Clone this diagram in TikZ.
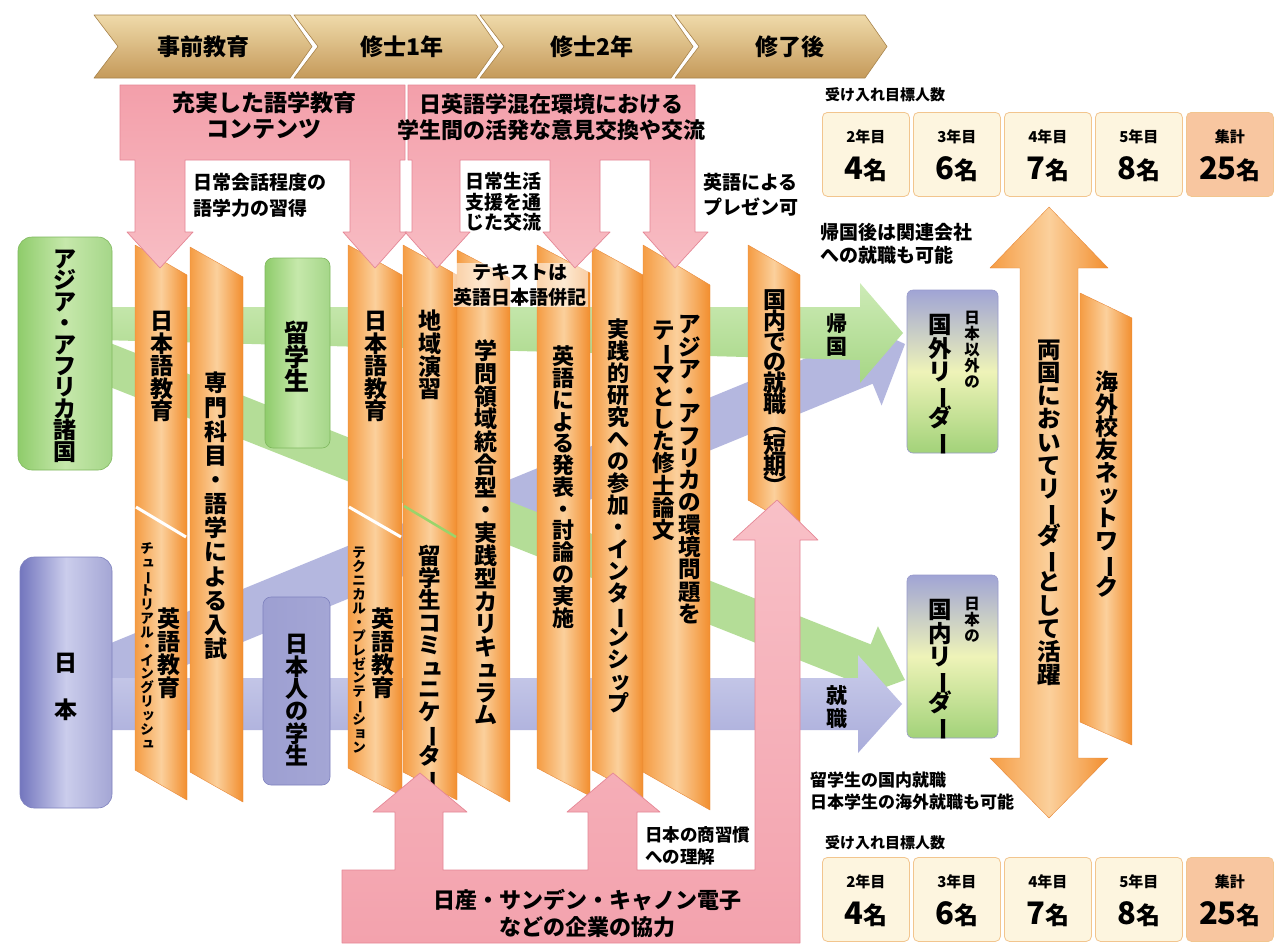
\documentclass[tikz,border=0pt]{standalone}
\usepackage{fontspec}
\setmainfont{Noto Sans CJK JP}
\usepackage{graphicx}
\usetikzlibrary{calc}

\definecolor{chevT}{HTML}{EFDAAA}
\definecolor{chevB}{HTML}{C59A5A}
\definecolor{chevD}{HTML}{A8844C}
\definecolor{orL}{HTML}{F59C43}
\definecolor{orM}{HTML}{FBD09C}
\definecolor{orR}{HTML}{F28E2E}
\definecolor{orD}{HTML}{E8893A}
\definecolor{pk1}{HTML}{F39FAA}
\definecolor{pk2}{HTML}{F8BDC4}
\definecolor{pkD}{HTML}{E58796}
\definecolor{pkB1}{HTML}{F8C0C7}
\definecolor{pkB2}{HTML}{F3A2AD}
\definecolor{grBand}{HTML}{B4DD97}
\definecolor{grB1}{HTML}{CDEBB6}
\definecolor{grB2}{HTML}{A6D685}
\definecolor{puBand}{HTML}{B4B7DF}
\definecolor{puB1}{HTML}{CBCDEB}
\definecolor{puB2}{HTML}{A9ACDA}
\definecolor{grL}{HTML}{8FCC6B}
\definecolor{grM}{HTML}{C6E8AB}
\definecolor{grD}{HTML}{7FB85E}
\definecolor{puL}{HTML}{7376BE}
\definecolor{puM}{HTML}{CBCDEC}
\definecolor{puD}{HTML}{7E81BE}
\definecolor{ldTop}{HTML}{A0A4D5}
\definecolor{ldMid}{HTML}{EEF3B8}
\definecolor{ldBot}{HTML}{A2D279}
\definecolor{cntF}{HTML}{FDF5DF}
\definecolor{cntD}{HTML}{F2C58E}
\definecolor{sumF}{HTML}{F8C6A0}
\definecolor{splitG}{HTML}{9AD46A}

\makeatletter
\newdimen\vt@s
\newcommand\vtext[2][1]{\vt@s=#1em\relax\vbox{\offinterlineskip\vt@A#2\relax}}
\def\vt@A#1{\ifx\relax#1\else\vt@char{#1}\expandafter\vt@A\fi}
\def\vt@char#1{\hbox to 1.15em{\hss\vrule height \dimexpr 0.5\vt@s+0.38em\relax depth \dimexpr 0.5\vt@s-0.38em\relax width 0pt\smash{\vt@g{#1}}\hss}}
\def\vt@g#1{\in@{#1}{ー（）}\ifin@\rotatebox[origin=c]{-90}{#1}\else\in@{#1}{ッュョャィァェォっゃゅょ}\ifin@\raisebox{0.06em}{\kern0.1em#1\kern-0.1em}\else#1\fi\fi}
\makeatother

\newcommand\fatarrow[5]{%
  \coordinate (#1b) at ($(#1t)!#4!(#1s)$);
  \path[#5] ($(#1s)!#2!90:(#1t)$) -- ($(#1b)!#2!90:(#1t)$) -- ($(#1b)!#3!90:(#1t)$) -- (#1t)
     -- ($(#1b)!#3!-90:(#1t)$) -- ($(#1b)!#2!-90:(#1t)$) -- ($(#1s)!#2!-90:(#1t)$) -- cycle;}

\newcommand\cntbox[6]{%
  \node[#6, anchor=north west, minimum width=87pt, minimum height=84pt, inner sep=0pt] (#1) at (#2,#3) {};
  \node[htf=15] (#1l) at ($(#1.north)+(0,25)$) {#4};
  \node[inner sep=0pt] (#1n) at ($(#1.north)+(0,57)$) {\bfseries\fontsize{31pt}{31pt}\selectfont #5\fontsize{24pt}{24pt}\selectfont 名};}

\tikzset{
  chev/.style={top color=chevT, bottom color=chevB, draw=chevD, line width=0.6pt},
  colbox/.style={left color=orL, right color=orR, middle color=orM, draw=orD, line width=0.4pt},
  pinktop/.style={top color=pk1, bottom color=pk2, draw=pkD, line width=0.7pt},
  pinkbot/.style={top color=pkB1, bottom color=pkB2, draw=pkD, line width=0.7pt},
  gband/.style={top color=grB1, bottom color=grB2},
  pband/.style={top color=puB1, bottom color=puB2},
  gdiag/.style={fill=grBand},
  pdiag/.style={fill=puBand},
  gbox/.style={left color=grL, right color=grL!80!white, middle color=grM, draw=grD, line width=0.6pt},
  pbox/.style={left color=puL, right color=puL!65!white, middle color=puM, draw=puD, line width=0.6pt},
  leader/.style={top color=ldTop, bottom color=ldBot, middle color=ldMid, draw=puD!80, line width=0.6pt, rounded corners=6pt},
  cnt/.style={draw=cntD, fill=cntF, rounded corners=5pt, line width=0.8pt},
  sumbox/.style={draw=cntD, fill=sumF, rounded corners=5pt, line width=0.8pt},
  vtf/.style={inner sep=0pt, font=\bfseries\fontsize{#1pt}{#1pt}\selectfont},
  htf/.style={inner sep=0pt, font=\bfseries\fontsize{#1pt}{#1pt}\selectfont},
}

\begin{document}
\begin{tikzpicture}[x=1pt,y=-1pt,line join=round]
\useasboundingbox (0,0) rectangle (1276,943);
\fill[white] (0,0) rectangle (1276,943);

% ---- timeline chevrons
\foreach \L/\R in {94/290,294/476,480/671,675/865}{
  \path[chev] (\L,15) -- (\R,15) -- (\R+22,46.5) -- (\R,78) -- (\L,78) -- (\L+24,46.5) -- cycle;}
\node[htf=23] (ph1) at (203,47) {事前教育};
\node[htf=23] (ph2) at (402,47) {修士1年};
\node[htf=23] (ph3) at (592,47) {修士2年};
\node[htf=23] (ph4) at (790,47) {修了後};

% ---- flow bands
\coordinate (pds) at (100,674); \coordinate (pdt) at (905,344);
\fatarrow{pd}{24.5pt}{48pt}{45pt}{pdiag}
\coordinate (gds) at (100,361); \coordinate (gdt) at (905,680);
\fatarrow{gd}{20.5pt}{40pt}{45pt}{gdiag}
\coordinate (ght) at (903,333);
\path[gband] (100,307) -- (860,307) -- (860,283) -- (ght) -- (860,383) -- (860,360) -- (100,340) -- cycle;
\coordinate (pht) at (902,704);
\path[pband] (100,678) -- (858,678) -- (858,655) -- (pht) -- (858,753) -- (858,730) -- (100,730) -- cycle;
\node[vtf=21] (kikoku) at (837,335) {\vtext[1.05]{帰国}};
\node[vtf=21] (shushoku) at (837,707) {\vtext[1.05]{就職}};

% ---- origin boxes
\path[gbox, rounded corners=14pt] (18,237) rectangle (112,470);
\node[vtf=23] (asia) at (65,355) {\vtext[0.93]{アジア・アフリカ諸国}};
\path[pbox, rounded corners=14pt] (20,557) rectangle (112,808);
\node[vtf=23] (japan) at (66,686) {\vtext[2.05]{日本}};
\path[gbox, rounded corners=8pt] (265,258) rectangle (330,448);
\node[vtf=25] (ryu) at (297,357) {\vtext[0.97]{留学生}};
\path[pbox, rounded corners=8pt, left color=puL!70!white] (263,597) rectangle (330,785);
\node[vtf=23] (jstu) at (297,700) {\vtext[0.97]{日本人の学生}};

% ---- leader boxes
\path[leader] (907,290) rectangle (998,453);
\node[vtf=23.5] (gai) at (940,383) {\vtext[0.99]{国外リーダー}};
\node[vtf=15.5] (gaiS) at (972,350) {\vtext[1.03]{日本以外の}};
\path[leader] (907,575) rectangle (998,738);
\node[vtf=23.5] (nai) at (940,668) {\vtext[0.99]{国内リーダー}};
\node[vtf=15.5] (naiS) at (972,620) {\vtext[1.03]{日本の}};

% ---- curriculum columns
\foreach \a/\b/\c/\d/\e/\f in {135/187/245/275/770/800, 190/243/247/277/772/802,
   348/402/245/275/768/796, 403/457/245/275/772/800, 457/510/250/278/772/802,
   537/590/245/273/768/796, 592/643/247/275/770/798, 643/710/245/285/772/810,
   748/800/245/275/500/530, 1080/1132/293/318/722/745}{
  \path[colbox] (\a,\c) -- (\b,\d) -- (\b,\f) -- (\a,\e) -- cycle;}
\draw[white, line width=3pt] (136,507) -- (186,537);
\draw[white, line width=3pt] (349,507) -- (401,537);
\draw[splitG, line width=2.5pt] (404,506) -- (456,537);

% double arrow
\path[colbox] (1049,207) -- (1108,268) -- (1078,268) -- (1078,758) -- (1108,758) -- (1049,818)
   -- (990,758) -- (1020,758) -- (1020,268) -- (990,268) -- cycle;

% column texts
\node[vtf=23] (c1a) at (162,366) {\vtext[0.98]{日本語教育}};
\node[vtf=23] (c1b) at (169,653) {\vtext[1.0]{英語教育}};
\node[vtf=13.5] (c1c) at (147,646) {\vtext[1.03]{チュートリアル・イングリッシュ}};
\node[vtf=23] (c2) at (216,516) {\vtext[1.05]{専門科目・語学による入試}};
\node[vtf=23] (c3a) at (376,366) {\vtext[0.98]{日本語教育}};
\node[vtf=23] (c3b) at (383,653) {\vtext[1.0]{英語教育}};
\node[vtf=13.5] (c3c) at (359,650) {\vtext[1.03]{テクニカル・プレゼンテーション}};
\node[vtf=23] (c4a) at (430,355) {\vtext[0.98]{地域演習}};
\node[vtf=22.5] (c4b) at (430,667) {\vtext[0.99]{留学生コミュニケーター}};
\node[vtf=23] (c5) at (486,533) {\vtext[0.99]{学問領域統合型・実践型カリキュラム}};
\node[vtf=22] (c6) at (563,487) {\vtext[0.99]{英語による発表・討論の実施}};
\node[vtf=22] (c7) at (618,516) {\vtext[1.0]{実践的研究への参加・インターンシップ}};
\node[vtf=22.5] (c8a) at (690,469) {\vtext[0.99]{アジア・アフリカの環境問題を}};
\node[vtf=22.5] (c8b) at (664,430) {\vtext[0.99]{テーマとした修士論文}};
\node[vtf=23] (c9) at (775,393) {\vtext[0.9]{国内での就職（短期）}};
\node[vtf=23.5] (both) at (1049,512) {\vtext[0.99]{両国においてリーダーとして活躍}};
\node[vtf=23] (net) at (1107,484) {\vtext[0.99]{海外校友ネットワーク}};
\node[htf=19, align=center, fill=white, fill opacity=0.55, text opacity=1, inner sep=1pt] (txt) at (520,285) {テキストは\\[6pt]英語日本語併記};

% ---- pink input arrows (top)
\path[pinktop] (120,85) -- (405,85) -- (405,160) -- (400,160) -- (400,232) -- (407,232) -- (375,268)
  -- (343,232) -- (350,232) -- (350,160) -- (185,160) -- (185,232) -- (193,232) -- (160,268)
  -- (127,232) -- (135,232) -- (135,160) -- (120,160) -- cycle;
\path[pinktop] (408,85) -- (695,85) -- (695,160) -- (695,232) -- (708,232) -- (675,268) -- (643,232)
  -- (650,232) -- (650,160) -- (600,160) -- (600,232) -- (610,232) -- (575,268) -- (543,232)
  -- (550,232) -- (550,160) -- (460,160) -- (460,232) -- (470,232) -- (437,268) -- (405,232)
  -- (412,232) -- (412,160) -- (408,160) -- cycle;
\node[htf=23, align=center] (p1) at (264,115) {充実した語学教育\\[3pt]コンテンツ};
\node[htf=22, align=center] (p2) at (551,117) {日英語学混在環境における\\[4.5pt]学生間の活発な意見交換や交流};
\node[htf=19, align=left, anchor=west] (w1) at (193,195) {日常会話程度の\\[7pt]語学力の習得};
\node[htf=19, align=left, anchor=west] (w2) at (465,202) {日常生活\\[1.5pt]支援を通\\[1.5pt]じた交流};
\node[htf=19, align=left, anchor=west] (w3) at (703,195) {英語による\\[6pt]プレゼン可};

% ---- pink support arrows (bottom)
\path[pinkbot] (342,943) -- (342,870) -- (395,870) -- (395,812) -- (373,812) -- (420,773) -- (467,812)
  -- (443,812) -- (443,870) -- (588,870) -- (588,812) -- (567,812) -- (613,773) -- (660,812)
  -- (637,812) -- (637,870) -- (755,870) -- (755,540) -- (733,540) -- (777,500) -- (818,540)
  -- (800,540) -- (800,943) -- cycle;
\node[htf=22, align=center] (corp) at (587,913) {日産・サンデン・キャノン電子\\[5pt]などの企業の協力};
\node[htf=17.5, align=left, anchor=west] (biz) at (645,846) {日本の商習慣\\[4.5pt]への理解};

% ---- right side notes and targets
\node[htf=15, anchor=west] (tgt1) at (825,95) {受け入れ目標人数};
\cntbox{a2}{822}{112}{2年目}{4}{cnt}
\cntbox{a3}{913}{112}{3年目}{6}{cnt}
\cntbox{a4}{1004}{112}{4年目}{7}{cnt}
\cntbox{a5}{1095}{112}{5年目}{8}{cnt}
\cntbox{as}{1186}{112}{集計}{25}{sumbox}
\node[htf=19, align=left, anchor=west] (n1) at (820,244) {帰国後は関連会社\\[4pt]への就職も可能};
\node[htf=17, align=left, anchor=west] (n2) at (810,791) {留学生の国内就職\\[5pt]日本学生の海外就職も可能};
\node[htf=15, anchor=west] (tgt2) at (825,843) {受け入れ目標人数};
\cntbox{b2}{822}{857}{2年目}{4}{cnt}
\cntbox{b3}{913}{857}{3年目}{6}{cnt}
\cntbox{b4}{1004}{857}{4年目}{7}{cnt}
\cntbox{b5}{1095}{857}{5年目}{8}{cnt}
\cntbox{bs}{1186}{857}{集計}{25}{sumbox}
\end{tikzpicture}
\end{document}
